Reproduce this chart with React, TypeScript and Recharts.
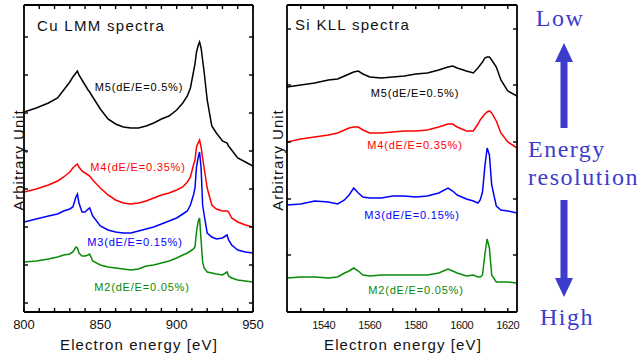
import React from 'react';
import { LineChart, Line, XAxis, YAxis } from 'recharts';

// ---------- Cu LMM panel data ----------
const cuEnergy = [800, 808, 816, 822, 826, 830, 832, 834, 835, 836, 838, 840, 842, 843, 845, 850, 855, 860, 865, 870, 875, 880, 885, 890, 895, 900, 904, 907, 909, 911, 912, 913, 914, 915, 916, 917, 918, 920, 923, 926, 930, 933, 934, 936, 940, 945, 950];
const cuM5 = [200, 204, 209, 214, 222, 230, 235, 239, 241, 237, 232, 227, 222, 220, 215, 203, 193, 188, 185, 184, 184, 186, 189, 193, 196, 202, 209, 216, 224, 240, 248, 260, 266, 270, 264, 252, 240, 212, 186, 179, 171, 169, 166, 162, 154, 150, 146];
const cuM4 = [120, 123, 127, 131, 135, 140, 144, 147, 148, 145, 141, 139, 137, 136, 132, 124, 117, 112, 109, 108, 109, 111, 114, 117, 119, 122, 125, 130, 135, 147, 152, 165, 169, 172, 165, 154, 144, 124, 107, 103, 101, 101, 100, 94, 90, 87, 85];
const cuM3 = [90, 93, 96, 98, 101, 103, 105, 115, 118, 109, 100, 100, 103, 104, 96, 86, 82, 80, 79, 79, 81, 83, 85, 88, 91, 94, 98, 101, 107, 117, 124, 145, 154, 160, 144, 107, 97, 79, 75, 73, 74, 77, 72, 67, 62, 60, 59];
const cuM2 = [50, 51, 53, 55, 57, 58, 60, 65, 64, 59, 56, 56, 57, 58, 51, 47, 45, 44, 43, 42, 43, 46, 47, 49, 51, 54, 57, 59, 61, 63, 65, 80, 90, 94, 72, 50, 44, 40, 39, 38, 37, 40, 36, 34, 32, 31, 30];

// ---------- Si KLL panel data ----------
const siEnergy = [1524, 1530, 1536, 1542, 1546, 1549, 1551, 1553, 1555, 1557, 1560, 1565, 1570, 1575, 1580, 1585, 1590, 1594, 1596, 1598, 1602, 1605, 1607, 1608, 1609, 1610, 1611, 1612, 1613, 1615, 1617, 1620, 1624];
const siM5 = [225, 227, 229, 232, 233, 236, 238, 240, 241, 238, 235, 234, 235, 236, 238, 239, 242, 245, 246, 244, 241, 239, 244, 247, 250, 254, 255, 255, 252, 245, 232, 221, 216];
const siM4 = [170, 173, 175, 177, 179, 182, 184, 185, 185, 182, 179, 179, 180, 181, 181, 182, 185, 188, 188, 185, 181, 181, 188, 192, 195, 198, 200, 201, 199, 191, 179, 170, 164];
const siM3 = [107, 108, 111, 110, 108, 112, 117, 124, 119, 115, 114, 114, 116, 116, 115, 116, 119, 124, 121, 117, 113, 111, 109, 112, 120, 145, 164, 157, 127, 106, 102, 101, 99];
const siM2 = [34, 35, 35, 34, 35, 39, 41, 44, 41, 37, 36, 37, 37, 37, 37, 37, 39, 43, 41, 39, 36, 37, 35, 35, 37, 57, 73, 64, 37, 30, 30, 30, 29];

// ---------- axes ----------
const cuTicksX = [800, 810, 820, 830, 840, 850, 860, 870, 880, 890, 900, 910, 920, 930, 940, 950];
const siTicksX = [1530, 1540, 1550, 1560, 1570, 1580, 1590, 1600, 1610, 1620];
const cuTicksY = [9, 47, 85, 123, 161, 199, 237, 275];
const siTicksY = [57, 113, 170, 227, 283];
const cuLabelStep = 50;
const siLabelStep = 20;

const seriesNames = ['M5(dE/E=0.5%)', 'M4(dE/E=0.35%)', 'M3(dE/E=0.15%)', 'M2(dE/E=0.05%)'];
const seriesColors = ['#000000', '#ff0000', '#0000ff', '#0a8a0a'];

const SANS = '"Liberation Sans", Arial, sans-serif';
const SERIF = '"Liberation Serif", "Times New Roman", serif';
const BLUE = '#3c3ccf';

const pairs = (xs: number[], ys: number[]) => xs.map((e, i) => ({ e, v: ys[i] }));

function makeXTick(side: 'bottom' | 'top', step: number, fontSize: number, spacing: number) {
  return (props: any) => {
    const { x, y, payload } = props;
    const v = payload.value;
    const dir = side === 'bottom' ? -1 : 1;
    const show = side === 'bottom' && Math.round(v) % step === 0;
    return (
      <g>
        <line x1={x} y1={y} x2={x} y2={y + dir * 4} stroke="#000" strokeWidth={1.4} />
        {show && (
          <text x={x} y={y + 17} textAnchor="middle" fontSize={fontSize} fontFamily={SANS} letterSpacing={spacing} fill="#111">
            {v}
          </text>
        )}
      </g>
    );
  };
}

function makeYTick(side: 'left' | 'right') {
  return (props: any) => {
    const { x, y } = props;
    const dir = side === 'left' ? 1 : -1;
    return <line x1={x} y1={y} x2={x + dir * 4} y2={y} stroke="#000" strokeWidth={1.4} />;
  };
}

type PanelProps = {
  left: number;
  width: number;
  margin: { top: number; right: number; bottom: number; left: number };
  energy: number[];
  series: number[][];
  ticksX: number[];
  ticksY: number[];
  domainX: [number, number];
  step: number;
  fontSize: number;
  spacing: number;
};

function Panel(p: PanelProps) {
  const axisLine = { stroke: '#000', strokeWidth: 1.8 };
  return (
    <div style={{ position: 'absolute', left: p.left, top: 0 }}>
      <LineChart width={p.width} height={360} margin={p.margin}>
        <XAxis
          xAxisId="b"
          dataKey="e"
          type="number"
          domain={p.domainX}
          allowDataOverflow
          ticks={p.ticksX}
          interval={0}
          height={1}
          tickSize={0}
          tickMargin={0}
          tickLine={false}
          axisLine={axisLine}
          tick={makeXTick('bottom', p.step, p.fontSize, p.spacing)}
        />
        <XAxis
          xAxisId="t"
          orientation="top"
          dataKey="e"
          type="number"
          domain={p.domainX}
          allowDataOverflow
          ticks={p.ticksX}
          interval={0}
          height={1}
          tickSize={0}
          tickMargin={0}
          tickLine={false}
          axisLine={axisLine}
          tick={makeXTick('top', p.step, p.fontSize, p.spacing)}
        />
        <YAxis
          yAxisId="l"
          type="number"
          domain={[0, 307]}
          allowDataOverflow
          ticks={p.ticksY}
          interval={0}
          width={1}
          tickSize={0}
          tickMargin={0}
          tickLine={false}
          axisLine={axisLine}
          tick={makeYTick('left')}
        />
        <YAxis
          yAxisId="r"
          orientation="right"
          type="number"
          domain={[0, 307]}
          allowDataOverflow
          ticks={p.ticksY}
          interval={0}
          width={1}
          tickSize={0}
          tickMargin={0}
          tickLine={false}
          axisLine={axisLine}
          tick={makeYTick('right')}
        />
        {p.series.map((s, i) => (
          <Line
            key={i}
            xAxisId="b"
            yAxisId="l"
            data={pairs(p.energy, s)}
            dataKey="v"
            type="linear"
            stroke={seriesColors[i]}
            strokeWidth={1.5}
            dot={false}
            isAnimationActive={false}
          />
        ))}
      </LineChart>
    </div>
  );
}

const labelPos = {
  cu: [
    [139, 91],
    [138, 171],
    [135, 246],
    [142, 291],
  ],
  si: [
    [415, 97],
    [415, 149],
    [412, 219],
    [416, 294],
  ],
};

export default function App() {
  return (
    <div style={{ position: 'relative', width: 643, height: 360, background: '#fff', overflow: 'hidden' }}>
      <style>{'body{margin:0;}'}</style>
      <Panel
        left={0}
        width={270}
        margin={{ top: 4, right: 16, bottom: 47, left: 23 }}
        energy={cuEnergy}
        series={[cuM5, cuM4, cuM3, cuM2]}
        ticksX={cuTicksX}
        ticksY={cuTicksY}
        domainX={[800, 950]}
        step={cuLabelStep}
        fontSize={13}
        spacing={0}
      />
      <Panel
        left={270}
        width={260}
        margin={{ top: 4, right: 12, bottom: 47, left: 16 }}
        energy={siEnergy}
        series={[siM5, siM4, siM3, siM2]}
        ticksX={siTicksX}
        ticksY={siTicksY}
        domainX={[1524, 1624]}
        step={siLabelStep}
        fontSize={11}
        spacing={-0.4}
      />
      <svg width={643} height={360} style={{ position: 'absolute', left: 0, top: 0, pointerEvents: 'none' }}>
        <g fontFamily={SANS}>
          <text x={37} y={31} fontSize={15} letterSpacing={1.3} fill="#111">Cu LMM spectra</text>
          <text x={295} y={30} fontSize={15} letterSpacing={1.3} fill="#111">Si KLL spectra</text>
          {labelPos.cu.map(([x, y], i) => (
            <text key={'c' + i} x={x} y={y} fontSize={11} letterSpacing={0.8} textAnchor="middle" fill={seriesColors[i]}>
              {seriesNames[i]}
            </text>
          ))}
          {labelPos.si.map(([x, y], i) => (
            <text key={'s' + i} x={x} y={y} fontSize={11} letterSpacing={0.8} textAnchor="middle" fill={seriesColors[i]}>
              {seriesNames[i]}
            </text>
          ))}
          <text x={139} y={350} fontSize={15} letterSpacing={1.1} textAnchor="middle" fill="#111">Electron energy [eV]</text>
          <text x={403} y={350} fontSize={15} letterSpacing={1.1} textAnchor="middle" fill="#111">Electron energy [eV]</text>
          <text x={0} y={0} fontSize={15} letterSpacing={1} textAnchor="middle" dominantBaseline="central" fill="#111" transform="translate(18,160) rotate(-90)">Arbitrary Unit</text>
          <text x={0} y={0} fontSize={15} letterSpacing={1} textAnchor="middle" dominantBaseline="central" fill="#111" transform="translate(277,160) rotate(-90)">Arbitrary Unit</text>
        </g>
        <g fontFamily={SERIF} fill={BLUE} fontSize={24} letterSpacing={1.5}>
          <text x={560} y={26} textAnchor="middle">Low</text>
          <text x={528} y={157}>Energy</text>
          <text x={528} y={185}>resolution</text>
          <text x={567} y={325} textAnchor="middle">High</text>
        </g>
        <g fill={BLUE}>
          <polygon points="555,62 564,43 573,62" />
          <rect x={560.5} y={61} width={7} height={67} />
          <rect x={560.5} y={200} width={7} height={79} />
          <polygon points="555,278 564,297 573,278" />
        </g>
      </svg>
    </div>
  );
}
